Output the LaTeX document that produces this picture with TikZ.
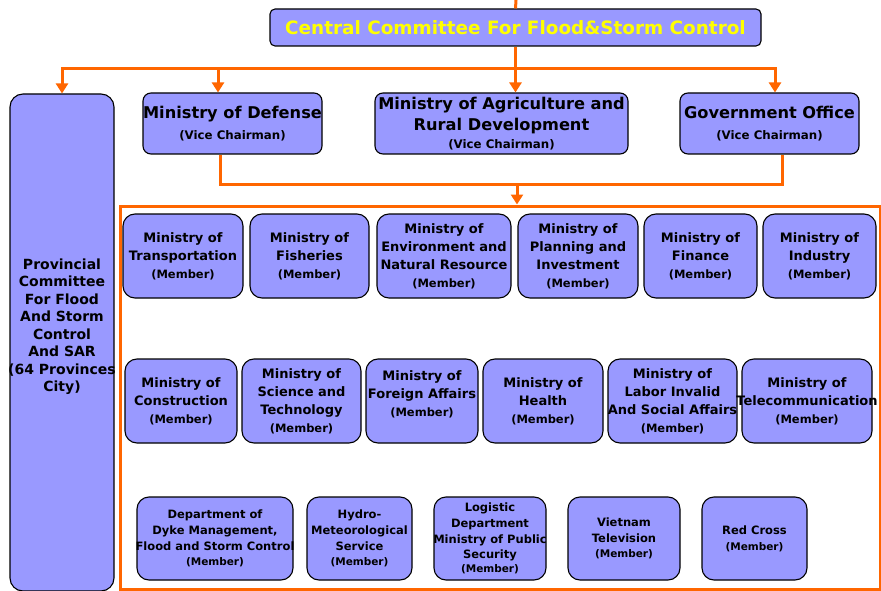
\documentclass[tikz,border=0pt]{standalone}
\usepackage{fontspec}
\setmainfont{DejaVu Sans}
\usetikzlibrary{arrows.meta}
\definecolor{boxfill}{HTML}{9999FF}
\definecolor{linkorange}{HTML}{FF6600}
\definecolor{titleyellow}{HTML}{FFFF00}
% a line that may run past the sides of its box
\newcommand\wide[1]{\makebox[0pt]{#1}}
\newcommand\membertag{{\fontsize{11.5}{13}\selectfont (Member)}}
\newcommand\smalltag{{\fontsize{10.5}{12}\selectfont (Member)}}
\newcommand\vicetag{{\fontsize{11.8}{14}\selectfont (Vice Chairman)}}

\begin{document}
\begin{tikzpicture}[x=1pt,y=-1pt,
  box/.style={draw=black, line width=1.1pt, fill=boxfill, align=center, inner sep=0pt},
  memberbox/.style={box, rounded corners=12pt, minimum height=84pt, font=\bfseries\fontsize{13}{18}\selectfont},
  smallmember/.style={box, rounded corners=12pt, minimum height=83pt, font=\bfseries\fontsize{11.5}{15.7}\selectfont},
  vicebox/.style={box, rounded corners=8pt, minimum height=61pt, font=\bfseries\fontsize{16.2}{21}\selectfont},
  oline/.style={draw=linkorange, line width=3pt},
  arr/.style={oline, -{Triangle[width=12pt,length=10pt]}},
]
\useasboundingbox (0,0) rectangle (881,591);

% top level
\node[box, rounded corners=5pt, minimum width=491pt, minimum height=37pt,
      font=\bfseries\fontsize{18.4}{22}\selectfont, text=titleyellow]
  (central) at (515.5,27.5) {Central Committee For Flood\&Storm Control};

% provincial committees
\node[box, rounded corners=13pt, minimum width=104pt, minimum height=497pt]
  (prov) at (62,342.5) {};
\node[align=center, inner sep=0pt, font=\bfseries\fontsize{14}{17.5}\selectfont]
  (provlabel) at ([yshift=16pt]prov.center)
  {Provincial\\Committee\\For Flood\\And Storm\\Control\\And SAR\\\wide{(64 Provinces}\\City)};

% vice chairmen
\node[vicebox, minimum width=179pt] (mod) at (232.5,123.5)
  {\wide{Ministry of Defense}\\\vicetag};
\node[vicebox, minimum width=253pt] (mard) at (501.5,123.5)
  {Ministry of Agriculture and\\Rural Development\\[-3pt]\vicetag};
\node[vicebox, minimum width=179pt] (gov) at (769.5,123.5)
  {\wide{Government Office}\\\vicetag};

% frame around the members
\node[draw=linkorange, line width=3pt, minimum width=760pt, minimum height=383pt, inner sep=0pt]
  (frame) at (500,397.5) {};

% members, first row
\node[memberbox, minimum width=120pt] (trans) at (183,256) {Ministry of\\Transportation\\\membertag};
\node[memberbox, minimum width=119pt] (fish) at (309.5,256) {Ministry of\\Fisheries\\\membertag};
\node[memberbox, minimum width=134pt] (env) at (444,256) {Ministry of\\\wide{Environment and}\\\wide{Natural Resource}\\\membertag};
\node[memberbox, minimum width=120pt] (plan) at (578,256) {Ministry of\\Planning and\\Investment\\\membertag};
\node[memberbox, minimum width=113pt] (fin) at (700.5,256) {Ministry of\\Finance\\\membertag};
\node[memberbox, minimum width=113pt] (ind) at (819.5,256) {Ministry of\\Industry\\\membertag};

% members, second row
\node[memberbox, minimum width=112pt] (cons) at (181,401) {Ministry of\\Construction\\\membertag};
\node[memberbox, minimum width=119pt] (sci) at (301.5,401) {Ministry of\\Science and\\Technology\\\membertag};
% this one sits a little high in its box
\node[memberbox, minimum width=112pt] (fore) at (422,401) {Ministry of\\\wide{Foreign Affairs}\\\membertag\\[-4pt]\mbox{}};
\node[memberbox, minimum width=120pt] (health) at (543,401) {Ministry of\\Health\\\membertag};
\node[memberbox, minimum width=129pt] (labor) at (672.5,401) {Ministry of\\Labor Invalid\\\wide{And Social Affairs}\\\membertag};
\node[memberbox, minimum width=130pt] (tele) at (807,401) {Ministry of\\\wide{Telecommunication}\\\membertag};

% members, third row
\node[smallmember, minimum width=156pt] (dyke) at (215,538.5) {Department of\\Dyke Management,\\\wide{Flood and Storm Control}\\\smalltag};
\node[smallmember, minimum width=105pt] (hydro) at (359.5,538.5) {Hydro-\\\wide{Meteorological}\\Service\\\smalltag};
\node[smallmember, minimum width=112pt] (logi) at (490,538.5) {Logistic\\Department\\\wide{Ministry of Public}\\Security\\[-2pt]\smalltag};
\node[smallmember, minimum width=112pt] (vtv) at (624,538.5) {Vietnam\\Television\\\smalltag};
\node[smallmember, minimum width=105pt] (redx) at (754.5,538.5) {Red Cross\\\smalltag};

% connectors from the central committee
\coordinate (feed) at (516,0);
\coordinate (bus) at (516,69);
\draw[oline] (feed) -- (central.north);
\draw[arr] (bus) -| (prov.north);
\draw[arr] (bus) -| ([xshift=-14.5pt]mod.north);
\draw[arr] (bus) -| ([xshift=5.5pt]gov.north);
\draw[arr] (central.south) -- (central.south |- mard.north);

% connectors from the vice chairmen to the members
\coordinate (join) at (517,184);
\draw[oline] ([xshift=-12.5pt]mod.south) |- (join) -| ([xshift=12.5pt]gov.south);
\draw[arr] (join) -- (join |- frame.north);
\end{tikzpicture}
\end{document}
